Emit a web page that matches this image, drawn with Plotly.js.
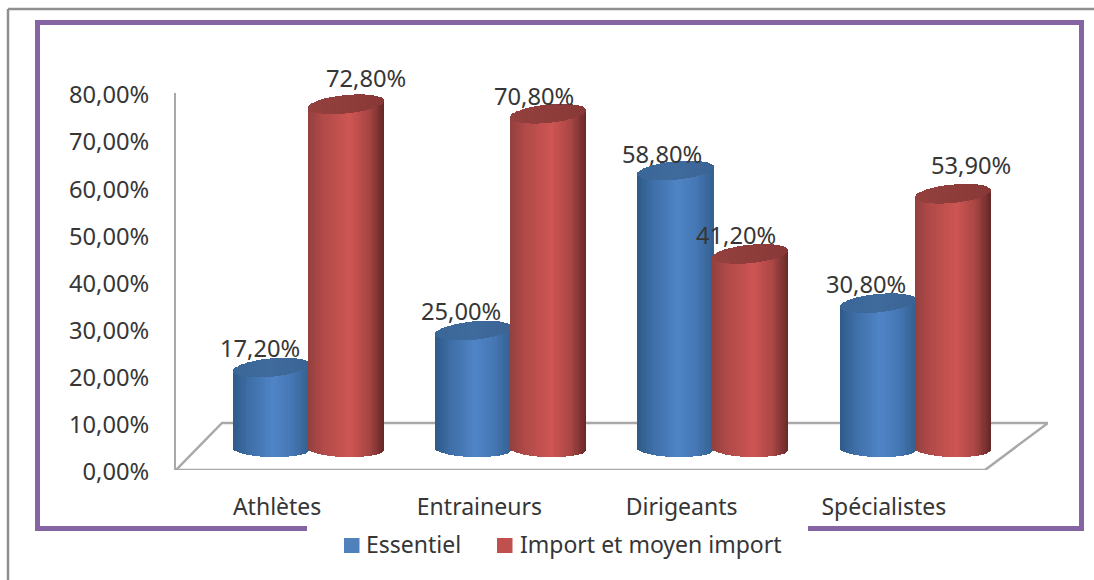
<!DOCTYPE html>
<html>
<head>
<meta charset="utf-8">
<script src="https://cdn.plot.ly/plotly-3.0.1.min.js"></script>
<style>html,body{margin:0;padding:0;background:#fff}#chart{width:1094px;height:580px}</style>
</head>
<body>
<div id="chart"></div>
<script>
// Survey results per group of respondents (percent)
const categories = ['Athlètes', 'Entraineurs', 'Dirigeants', 'Spécialistes'];
const essentiel = [17.2, 25.0, 58.8, 30.8];
const importMoyen = [72.8, 70.8, 41.2, 53.9];
const seriesNames = ['Essentiel', 'Import et moyen import'];

// Hand placement of the value labels, in pixels from the cylinder's cap
const labelShiftX = { essentiel: [-11, -12, -14, -12], importMoyen: [20, -14, -14, 18] };
const labelShiftY = { essentiel: [20, 20, 17, 19], importMoyen: [26, 18, 19, 29] };

// Plot box in pixels
const W = 1094, H = 580, L = 176, R = 1048, T = 93, B = 470;
const SLOT = 202.25;                     // pixel width of one category
const xMax = (R - L) / SLOT;
const px2paperX = p => (p - L) / (R - L);
const px2paperY = p => (B - p) / (B - T);

// Fake-3D projection: cylinders stand back from the floor's front edge
const DEPTH_SHIFT = 0.155, HALF_GAP = 0.185, RADIUS = 0.188;
const FLOOR_LIFT = 4.45, HEIGHT_SCALE = 1.005;
const CAP_B = 1.95, CAP_TILT = 0.75, FOOT_B = 1.7, FOOT_TILT = 0.2;
const SLICES = 64;

const blueBody = [[-1, '#2f5a88'], [-0.6, '#3e6ea6'], [0.05, '#4f84c6'], [0.55, '#4577b4'], [1, '#33608f']];
const redBody = [[-1, '#93403e'], [-0.6, '#b04a48'], [0.1, '#ce5553'], [0.6, '#a84644'], [1, '#642826']];
const blueCap = [[-1, '#3a6798'], [0, '#3f6a9c'], [1, '#3a6494']];
const redCap = [[-1, '#93403e'], [0, '#8f3d3b'], [1, '#873836']];

function ramp(stops, u) {
  let i = 0;
  while (i < stops.length - 2 && u > stops[i + 1][0]) i++;
  const [u0, c0] = stops[i], [u1, c1] = stops[i + 1];
  const t = Math.min(1, Math.max(0, (u - u0) / (u1 - u0)));
  const ch = (c, k) => parseInt(c.substr(1 + 2 * k, 2), 16);
  const mix = k => Math.round(ch(c0, k) + (ch(c1, k) - ch(c0, k)) * t);
  return `rgb(${mix(0)},${mix(1)},${mix(2)})`;
}

const topOf = v => FLOOR_LIFT + v * HEIGHT_SCALE;
const groupCenter = (i, side) => i + 0.5 + DEPTH_SHIFT + side * HALF_GAP;

// One series becomes two bar traces: the lit wall and the elliptical cap,
// each built from thin vertical slices so the shading and curves are drawn by bars.
function cylinderTraces(values, side, bodyRamp, capRamp) {
  const body = { x: [], y: [], base: [], color: [] };
  const cap = { x: [], y: [], base: [], color: [] };
  values.forEach((v, i) => {
    const cx = groupCenter(i, side);
    for (let k = 0; k < SLICES; k++) {
      const u = (k + 0.5) / SLICES * 2 - 1;
      const s = Math.sqrt(1 - u * u);
      const x = cx + u * RADIUS;
      const footY = FLOOR_LIFT + FOOT_TILT * -u - FOOT_B * s;
      const capMid = topOf(v) + CAP_TILT * u;
      body.x.push(x); body.base.push(footY); body.y.push(capMid - footY);
      body.color.push(ramp(bodyRamp, u));
      cap.x.push(x); cap.base.push(capMid - CAP_B * s); cap.y.push(2 * CAP_B * s);
      cap.color.push(ramp(capRamp, u));
    }
  });
  const w = 2 * RADIUS / SLICES * 1.12;
  const mk = d => ({
    type: 'bar', x: d.x, y: d.y, base: d.base, width: w,
    marker: { color: d.color, line: { width: 0 } },
    hoverinfo: 'skip', showlegend: false
  });
  return [mk(body), mk(cap)];
}

const traces = [
  ...cylinderTraces(essentiel, -1, blueBody, blueCap),
  ...cylinderTraces(importMoyen, 1, redBody, redCap)
];

const fmt = v => v.toFixed(2).replace('.', ',') + '%';
const TEXT = '#363636';
const FONT = 'Noto Sans, sans-serif';
const NUM_SIZE = 23.7, LABEL_SIZE = 23;
const valueLabel = (v, i, side, sx, sy) => ({
  x: groupCenter(i, side), y: topOf(v), xref: 'x', yref: 'y', text: fmt(v),
  showarrow: false, xshift: sx[i], yshift: sy[i],
  font: { family: FONT, size: NUM_SIZE, color: TEXT }
});

// Legend row below the purple box
const legendColors = ['#4f81bd', '#c0504d'];
const legendSwatchX = [344, 497];
const legendTextX = [366, 520];
const LEGEND_Y = 545.5;
const legendText = seriesNames.map((name, i) => ({
  xref: 'paper', yref: 'paper', x: px2paperX(legendTextX[i]), y: px2paperY(LEGEND_Y),
  xanchor: 'left', yanchor: 'middle', xshift: -2, yshift: 1.5, text: name, showarrow: false,
  font: { family: FONT, size: LABEL_SIZE, color: TEXT }
}));
const legendSwatches = seriesNames.map((name, i) => ({
  type: 'rect', xref: 'paper', yref: 'paper', layer: 'above',
  x0: px2paperX(legendSwatchX[i]), x1: px2paperX(legendSwatchX[i] + 15.5),
  y0: px2paperY(LEGEND_Y - 7.5), y1: px2paperY(LEGEND_Y + 7.5),
  fillcolor: legendColors[i], line: { width: 0 }
}));

const purple = '#8464a3', frameGrey = '#8f8f8f', floorGrey = '#a9a9a9';
const pxLine = (x0, y0, x1, y1, color, width) => ({
  type: 'line', xref: 'paper', yref: 'paper', layer: 'below',
  x0: px2paperX(x0), y0: px2paperY(y0), x1: px2paperX(x1), y1: px2paperY(y1),
  line: { color, width }
});

const layout = {
  width: W, height: H, paper_bgcolor: '#fff', plot_bgcolor: 'rgba(0,0,0,0)',
  margin: { l: L, r: W - R, t: T, b: H - B, pad: 0, autoexpand: false },
  barmode: 'overlay', bargap: 0, bargroupgap: 0, separators: ',.', showlegend: false,
  font: { family: FONT, color: TEXT, size: LABEL_SIZE },
  xaxis: {
    range: [0, xMax], tickmode: 'array',
    tickvals: categories.map((c, i) => i + 0.5), ticktext: categories,
    showgrid: false, zeroline: false, showline: false, ticks: '', ticklabelstandoff: 21,
    tickfont: { family: FONT, size: LABEL_SIZE, color: TEXT }, fixedrange: true
  },
  yaxis: {
    range: [0, 80], dtick: 10, tickformat: '.2f', ticksuffix: '%',
    showgrid: false, zeroline: false, showline: true, linecolor: floorGrey, linewidth: 2,
    ticks: '', ticklabelstandoff: 20, ticklabelshift: 2,
    tickfont: { family: FONT, size: NUM_SIZE, color: TEXT }, fixedrange: true
  },
  annotations: [
    ...essentiel.map((v, i) => valueLabel(v, i, -1, labelShiftX.essentiel, labelShiftY.essentiel)),
    ...importMoyen.map((v, i) => valueLabel(v, i, 1, labelShiftX.importMoyen, labelShiftY.importMoyen)),
    ...legendText
  ],
  shapes: [
    // floor of the 3D box
    {
      type: 'path', xref: 'x', yref: 'y', layer: 'below', fillcolor: 'rgba(0,0,0,0)',
      path: `M 0 0 L ${(222 - L) / SLOT} 10 L ${xMax} 10 L 4 0 Z`,
      line: { color: floorGrey, width: 2.5 }
    },
    // outer page border
    pxLine(8, 9, W, 9, frameGrey, 2.5),
    pxLine(8, 9, 8, H, frameGrey, 2.5),
    // purple box, broken at the bottom where the legend sits
    pxLine(35, 22.5, 1084, 22.5, purple, 5),
    pxLine(37.5, 20, 37.5, 531, purple, 5),
    pxLine(1081.5, 20, 1081.5, 531, purple, 5),
    pxLine(35, 528.5, 307, 528.5, purple, 5),
    pxLine(808, 528.5, 1084, 528.5, purple, 5),
    ...legendSwatches
  ]
};

Plotly.newPlot('chart', traces, layout, { displayModeBar: false, staticPlot: true });
</script>
</body>
</html>
